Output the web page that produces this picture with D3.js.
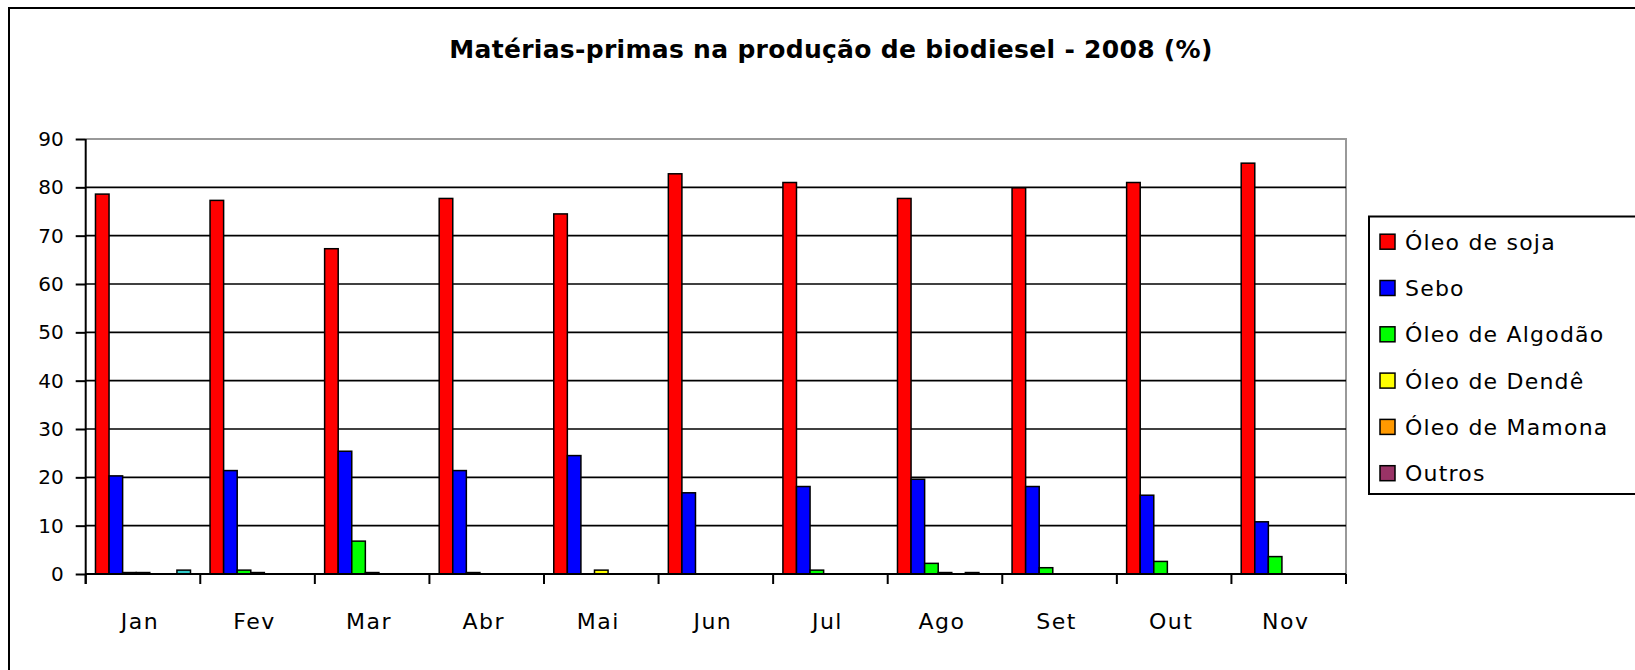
<!DOCTYPE html>
<html><head><meta charset="utf-8">
<script src="https://cdn.jsdelivr.net/npm/d3@7"></script>
<style>body{margin:0;background:#fff}svg{display:block}</style>
</head><body>
<svg id="c" width="1635" height="670"></svg>
<script>
const months = ["Jan","Fev","Mar","Abr","Mai","Jun","Jul","Ago","Set","Out","Nov"];
const seriesNames = ["Óleo de soja","Sebo","Óleo de Algodão","Óleo de Dendê","Óleo de Mamona","Outros","(sem legenda)"];
const seriesColors = ["#FF0000","#0000FF","#00FF00","#FFFF00","#FF9900","#993366","#33CCCC"];
const soja    = [78.6,77.3,67.3,77.7,74.5,82.8,81.0,77.7,79.9,81.0,85.0];
const sebo    = [20.3,21.4,25.4,21.4,24.5,16.8,18.1,19.6,18.1,16.3,10.8];
const algodao = [0.3,0.8,6.8,0.3,0,0,0.8,2.2,1.3,2.6,3.6];
const dende   = [0.3,0.3,0.3,0,0.8,0,0,0.3,0,0,0];
const mamona  = [0,0,0,0,0,0,0,0,0,0,0];
const outros  = [0,0,0,0,0,0,0,0.3,0,0,0];
const extra   = [0.8,0,0,0,0,0,0,0,0,0,0];
const yTicks  = [0,10,20,30,40,50,60,70,80,90];
const legendCount = 6;

const allSeries = [soja,sebo,algodao,dende,mamona,outros,extra];
const FONT = "'DejaVu Sans', sans-serif";
const svg = d3.select("#c");

// outer chart border (extends past right/bottom edges)
svg.append("rect").attr("x",9).attr("y",8).attr("width",1700).attr("height",700)
  .attr("fill","#fff").attr("stroke","#000").attr("stroke-width",2);

const L=85.7, R=1346, T=139, B=574;
const x = d3.scaleBand().domain(months).range([L,R]).paddingInner(0).paddingOuter(0);
const xs = d3.scaleBand().domain(d3.range(allSeries.length)).range([0,x.bandwidth()]).paddingInner(0).paddingOuter(0.72);
const y = d3.scaleLinear().domain([0,90]).range([B,T]);

// plot area border (gray top/right)
svg.append("path").attr("d",`M${L},${T}H${R}V${B}`).attr("fill","none").attr("stroke","#999").attr("stroke-width",2);

// gridlines
svg.append("g").selectAll("line").data(yTicks.filter(d=>d>0&&d<90)).join("line")
  .attr("x1",L).attr("x2",R).attr("y1",d=>y(d)).attr("y2",d=>y(d))
  .attr("stroke","#000").attr("stroke-width",1.6);

// bars
const g = svg.append("g");
allSeries.forEach((vals,si)=>{
  g.selectAll(null).data(vals.map((v,i)=>({v,m:months[i]})).filter(d=>d.v>0)).join("rect")
    .attr("x",d=>x(d.m)+xs(si)).attr("width",xs.bandwidth())
    .attr("y",d=>y(d.v)).attr("height",d=>B-y(d.v))
    .attr("fill",seriesColors[si]).attr("stroke","#000").attr("stroke-width",1.5);
});

// y axis
const yAxis = d3.axisLeft(y).tickValues(yTicks).tickSize(10).tickPadding(12).tickFormat(d3.format("d"));
const ya = svg.append("g").attr("transform",`translate(${L},0)`).call(yAxis);
ya.select(".domain").attr("stroke","#000").attr("stroke-width",2).attr("d",`M0,${T}V${B+10}`);
ya.selectAll(".tick line").attr("stroke","#000").attr("stroke-width",2);
ya.selectAll("text").attr("font-family",FONT).attr("font-size",20).attr("fill","#000");

// x axis
const xa = svg.append("g").attr("transform",`translate(0,${B})`);
xa.append("line").attr("x1",L).attr("x2",R).attr("stroke","#000").attr("stroke-width",2);
xa.selectAll(".tk").data(months.concat(["end"])).join("line")
  .attr("x1",(d,i)=>L+i*x.bandwidth()).attr("x2",(d,i)=>L+i*x.bandwidth())
  .attr("y1",0).attr("y2",10).attr("stroke","#000").attr("stroke-width",2);
xa.selectAll("text").data(months).join("text")
  .attr("x",d=>x(d)+x.bandwidth()/2-3).attr("y",55)
  .attr("text-anchor","middle").attr("font-family",FONT).attr("font-size",22)
  .attr("letter-spacing",1.5).attr("fill","#000")
  .text(d=>d);

// title
svg.append("text").attr("x",831).attr("y",58).attr("text-anchor","middle")
  .attr("font-family",FONT).attr("font-weight","bold").attr("font-size",25)
  .attr("letter-spacing",0.3).attr("fill","#000")
  .text("Matérias-primas na produção de biodiesel - 2008 (%)");

// legend
const lg = svg.append("g");
lg.append("rect").attr("x",1369).attr("y",216.5).attr("width",400).attr("height",277.5)
  .attr("fill","#fff").attr("stroke","#000").attr("stroke-width",2);
const items = seriesNames.slice(0,legendCount);
const row = lg.selectAll("g").data(items).join("g")
  .attr("transform",(d,i)=>`translate(1380,${241.7+i*46.3})`);
row.append("rect").attr("x",0).attr("y",-7.5).attr("width",15).attr("height",15)
  .attr("fill",(d,i)=>seriesColors[i]).attr("stroke","#000").attr("stroke-width",1.5);
row.append("text").attr("x",25).attr("y",8).attr("font-family",FONT).attr("font-size",22)
  .attr("letter-spacing",1.2).attr("fill","#000").text(d=>d);
</script>
</body></html>
